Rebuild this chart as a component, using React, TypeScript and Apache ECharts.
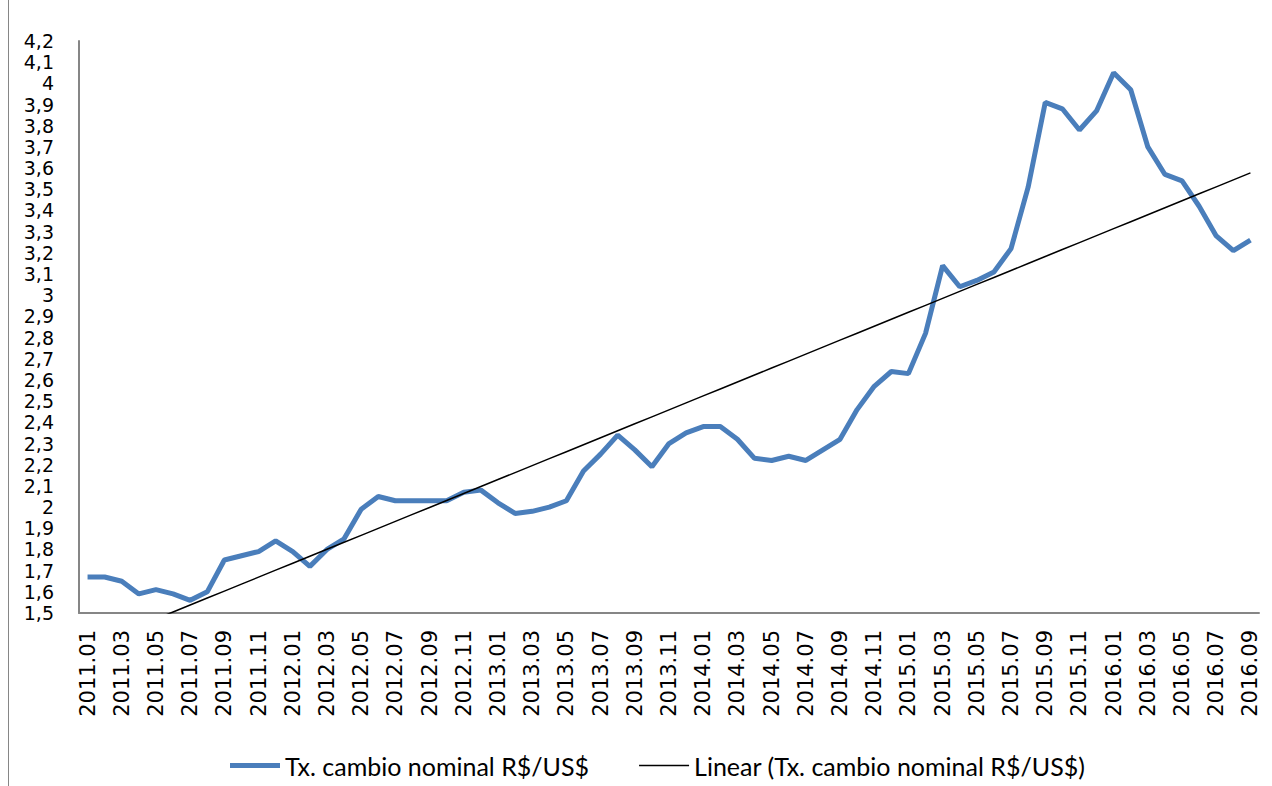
import React, { useEffect, useRef } from "react";
import * as echarts from "echarts";

const categories: string[] = (() => {
  const out: string[] = [];
  for (let y = 2011; y <= 2016; y++) {
    for (let m = 1; m <= 12; m++) {
      if (y === 2016 && m > 9) break;
      out.push(`${y}.${m < 10 ? "0" + m : m}`);
    }
  }
  return out;
})();

const cambio: number[] = [
  1.67, 1.67, 1.65, 1.59, 1.61, 1.59, 1.56, 1.6, 1.75, 1.77, 1.79, 1.84,
  1.79, 1.72, 1.8, 1.85, 1.99, 2.05, 2.03, 2.03, 2.03, 2.03, 2.07, 2.08,
  2.02, 1.97, 1.98, 2.0, 2.03, 2.17, 2.25, 2.34, 2.27, 2.19, 2.3, 2.35,
  2.38, 2.38, 2.32, 2.23, 2.22, 2.24, 2.22, 2.27, 2.32, 2.46, 2.57, 2.64,
  2.63, 2.82, 3.14, 3.04, 3.07, 3.11, 3.22, 3.51, 3.91, 3.88, 3.78, 3.87,
  4.05, 3.97, 3.7, 3.57, 3.54, 3.42, 3.28, 3.21, 3.26,
];

const seriesName = "Tx. cambio nominal R$/US$";
const trendName = "Linear (Tx. cambio nominal R$/US$)";

// Least-squares linear trend (as Excel's "Linear" trendline)
function linearTrend(ys: number[]): number[] {
  const n = ys.length;
  let sx = 0, sy = 0, sxx = 0, sxy = 0;
  ys.forEach((y, i) => {
    const x = i + 1;
    sx += x; sy += y; sxx += x * x; sxy += x * y;
  });
  const b = (n * sxy - sx * sy) / (n * sxx - sx * sx);
  const a = (sy - b * sx) / n;
  return ys.map((_, i) => a + b * (i + 1));
}

const trend = linearTrend(cambio);

export default function App() {
  const ref = useRef<HTMLDivElement>(null);
  useEffect(() => {
    if (!ref.current) return;
    const chart = echarts.init(ref.current, undefined, { renderer: "svg" });
    chart.setOption({
      animation: false,
      backgroundColor: "#ffffff",
      grid: { left: 79, top: 41, right: 13, bottom: 173, containLabel: false },
      graphic: [
        {
          type: "line",
          shape: { x1: 8.5, y1: 0, x2: 8.5, y2: 786 },
          style: { stroke: "#868686", lineWidth: 1 },
        },
      ],
      legend: {
        top: 748,
        left: 225,
        itemWidth: 50,
        itemHeight: 12,
        itemGap: 50,
        textStyle: { fontFamily: "Lato", fontSize: 25, color: "#000" },
        data: [
          { name: seriesName, icon: "path://M0,0 L50,0 L50,5 L0,5 Z", itemStyle: { color: "#4A7EBB" } },
          { name: trendName, icon: "path://M0,0 L50,0 L50,1.5 L0,1.5 Z", itemStyle: { color: "#000" } },
        ],
      },
      xAxis: {
        type: "category",
        data: categories,
        boundaryGap: true,
        axisLine: { lineStyle: { color: "#868686", width: 2 } },
        axisTick: { show: false },
        axisLabel: {
          interval: 1,
          rotate: 90,
          margin: 17,
          fontFamily: "DejaVu Sans",
          fontSize: 21,
          color: "#000",
        },
        splitLine: { show: false },
      },
      yAxis: {
        type: "value",
        min: 1.5,
        max: 4.2,
        interval: 0.1,
        axisLine: { show: true, lineStyle: { color: "#868686", width: 2 } },
        axisTick: { show: false },
        splitLine: { show: false },
        axisLabel: {
          margin: 25,
          fontFamily: "DejaVu Sans",
          fontSize: 19,
          lineHeight: 20,
          color: "#000",
          formatter: (v: number) => String(Math.round(v * 10) / 10).replace(".", ","),
        },
      },
      series: [
        {
          name: seriesName,
          type: "line",
          data: cambio,
          symbol: "none",
          lineStyle: { color: "#4A7EBB", width: 5 },
          itemStyle: { color: "#4A7EBB" },
          z: 2,
        },
        {
          name: trendName,
          type: "line",
          data: trend,
          symbol: "none",
          clip: true,
          lineStyle: { color: "#000", width: 1.5 },
          itemStyle: { color: "#000" },
          z: 3,
        },
      ],
    });
    return () => chart.dispose();
  }, []);
  return (
    <div
      ref={ref}
      style={{ position: "fixed", left: 0, top: 0, width: 1272, height: 786 }}
    />
  );
}
